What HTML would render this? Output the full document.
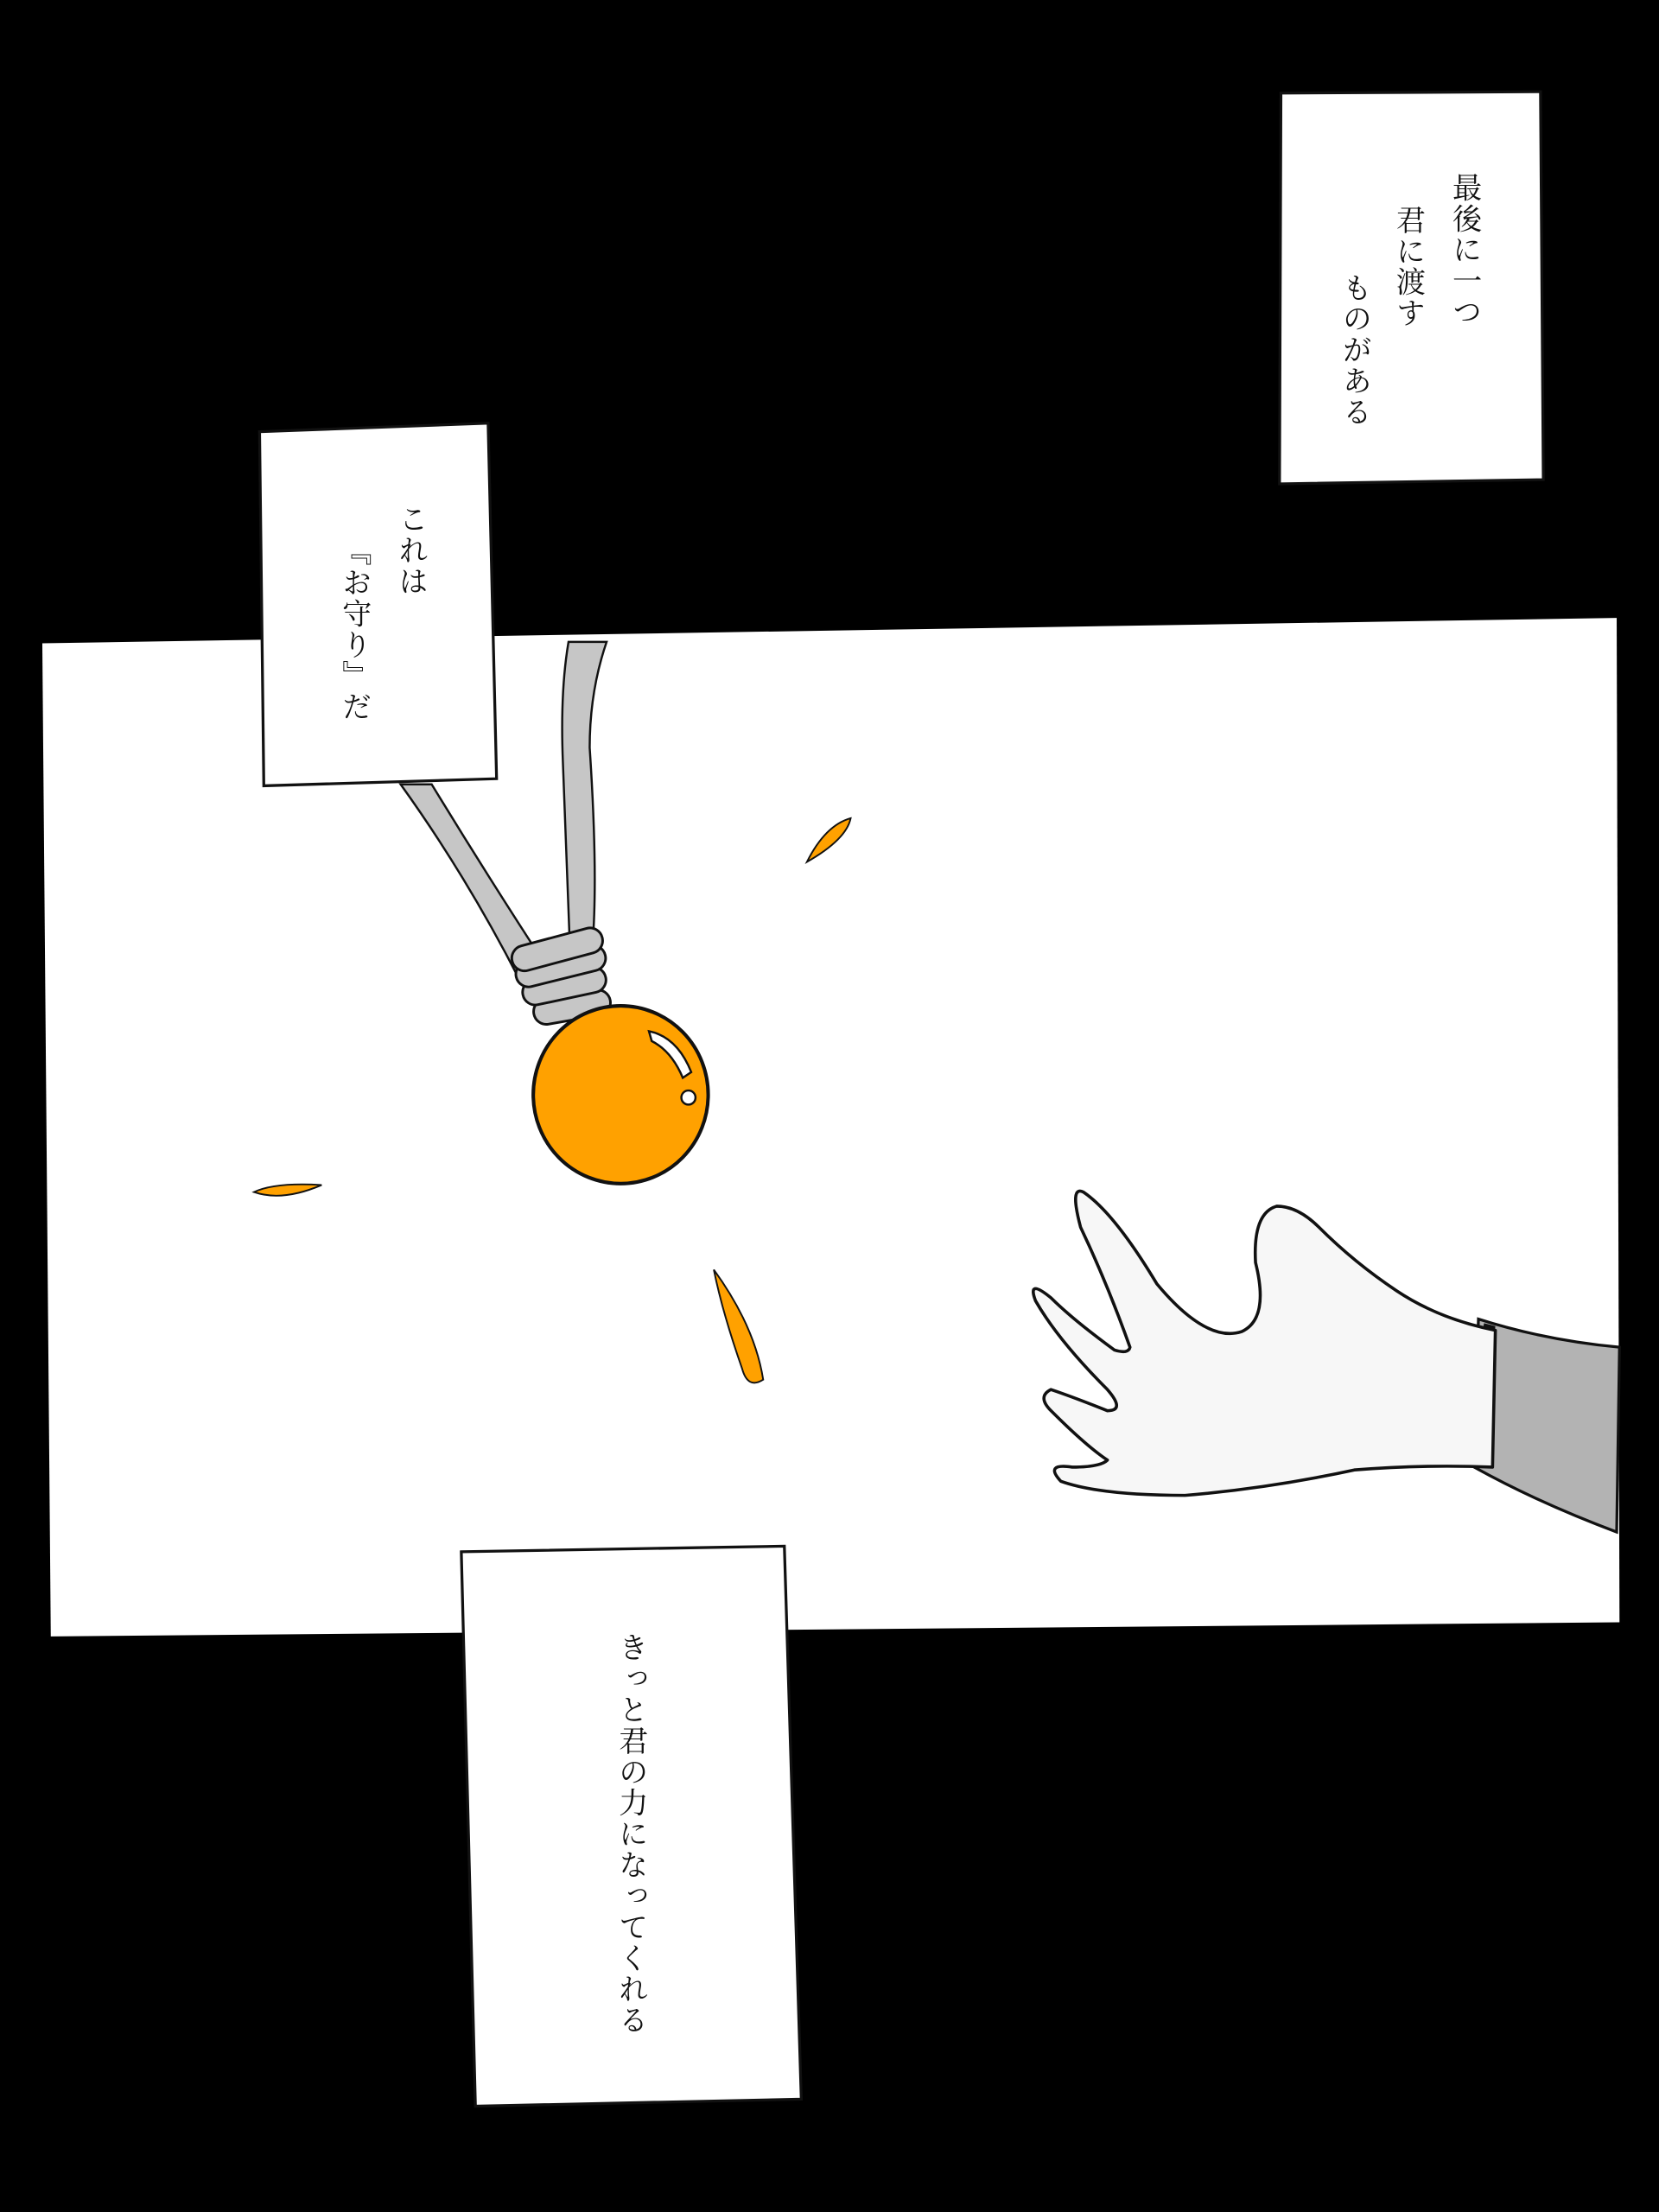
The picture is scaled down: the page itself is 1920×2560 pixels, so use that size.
<!DOCTYPE html>
<html><head><meta charset="utf-8"><style>
html,body{margin:0;padding:0;background:#000;}
svg{display:block;}
text{font-family:"Liberation Serif","Noto Serif CJK SC","Noto Sans CJK JP",serif;fill:#111;writing-mode:vertical-rl;}
</style></head><body>
<svg width="1920" height="2560" viewBox="0 0 1176 1568" xmlns="http://www.w3.org/2000/svg">
<rect width="1176" height="1568" fill="#000"/>
<polygon points="30,456 1146,438 1148,1150 36,1160" fill="#fff"/>
<path d="M284,556 L306,556 Q345,620 388,686 L368,694 Q330,620 284,556 Z" fill="#c6c6c6" stroke="#111" stroke-width="1.5"/>
<path d="M403,455 L430,455 Q418,490 418,530 Q424,620 420,670 L404,672 Q401,600 399,540 Q397,490 403,455 Z" fill="#c6c6c6" stroke="#111" stroke-width="1.5"/>
<g fill="#c6c6c6" stroke="#111" stroke-width="1.8">
<rect x="378" y="705" width="55" height="18" rx="9" transform="rotate(-10 405 714)"/>
<rect x="370" y="690" width="60" height="18" rx="9" transform="rotate(-12 400 699)"/>
<rect x="365" y="676" width="65" height="18" rx="9" transform="rotate(-14 397 685)"/>
<rect x="362" y="664" width="66" height="18" rx="9" transform="rotate(-15 395 673)"/>
</g>
<ellipse cx="440" cy="776" rx="62" ry="63" fill="#ffa100" stroke="#111" stroke-width="2.5"/>
<path d="M460,731 Q480,735 490,760 L484,764 Q476,745 462,738 Z" fill="#fff" stroke="#111" stroke-width="1.5"/>
<circle cx="488" cy="778" r="5" fill="#fff" stroke="#111" stroke-width="1.5"/>
<g fill="#ffa100" stroke="#111" stroke-width="1.2">
<path d="M572,611 Q585,585 603,580 Q600,595 572,611 Z"/>
<path d="M180,845 Q195,838 228,840 Q200,852 180,845 Z"/>
<path d="M506,900 Q535,940 541,978 Q530,985 526,970 Q512,930 506,900 Z"/>
</g>
<path d="M1048,935 Q1095,950 1148,955 L1146,1086 Q1090,1065 1045,1040 Z" fill="#b3b3b3" stroke="#111" stroke-width="2"/>
<path d="M1052,938 Q1042,985 1048,1040 L1058,1038 Q1055,985 1060,940 Z" fill="#111"/>
<path d="M1060,943 Q1020,935 990,915 Q960,895 935,870 Q920,855 905,855 Q888,860 890,895 Q900,935 880,944 Q855,952 820,910 Q790,860 768,845 Q758,840 766,870 Q785,910 801,955 Q800,960 790,957 Q760,935 745,920 Q728,906 734,922 Q750,950 785,985 Q798,1000 785,1000 Q760,990 745,985 Q735,990 745,1000 Q770,1025 785,1035 Q780,1040 760,1040 Q740,1037 752,1050 Q780,1060 840,1060 Q900,1055 960,1042 Q1010,1038 1058,1040 Z" fill="#f7f7f7" stroke="#111" stroke-width="2.2" stroke-linejoin="round"/>
<polygon points="908,66 1092,65 1094,340 907,343" fill="#fff" stroke="#111" stroke-width="2"/>
<polygon points="184,306 346,300 352,552 187,557" fill="#fff" stroke="#111" stroke-width="2"/>
<polygon points="327,1100 556,1096 568,1488 337,1493" fill="#fff" stroke="#111" stroke-width="2"/>
<text x="1038" y="122" font-size="21" letter-spacing="1">最後に一つ</text>
<text x="998" y="145" font-size="21" letter-spacing="1">君に渡す</text>
<text x="960" y="193" font-size="21" letter-spacing="1">ものがある</text>
<text x="291" y="357" font-size="21" letter-spacing="1">これは</text>
<text x="251" y="380" font-size="21" letter-spacing="1">『お守り』だ</text>
<text x="447" y="1157" font-size="21" letter-spacing="1">きっと君の力になってくれる</text>
</svg>
</body></html>
